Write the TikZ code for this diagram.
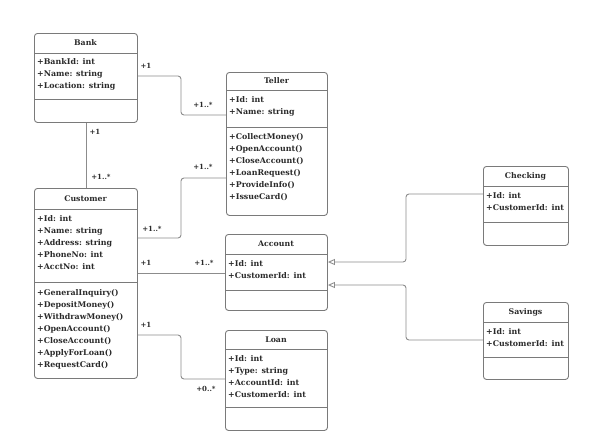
\documentclass[tikz,border=0pt]{standalone}
\usepackage{fontspec}
\setmainfont{DejaVu Serif}
\usetikzlibrary{arrows.meta,calc}
\definecolor{boxc}{HTML}{7A7A7A}
\definecolor{linec}{HTML}{8C8C8C}
\definecolor{txt}{HTML}{2A2A2A}
\tikzset{
  classbox/.style={draw=boxc, line width=0.9pt, rounded corners=3pt, anchor=north west, inner sep=0pt},
  sep/.style={draw=boxc, line width=0.9pt},
  title/.style={font=\fontsize{7.8}{10}\selectfont\bfseries, text=txt, inner sep=0pt},
  attrs/.style={font=\fontsize{7.9}{12}\selectfont\bfseries, text=txt, align=left, anchor=north west, inner sep=0pt},
  conn/.style={draw=linec, line width=0.9pt, rounded corners=3pt},
  mult/.style={font=\fontsize{7}{8}\selectfont\bfseries, text=txt, inner sep=0pt},
  gen/.style={conn, {Triangle[open, length=7pt, width=6pt]}-},
}
\begin{document}
\begin{tikzpicture}[x=1pt,y=-1pt]
\useasboundingbox (0,0) rectangle (605,439);
% Bank
\node[classbox, minimum width=103pt, minimum height=89pt] (bank) at (34,33) {};
\draw[sep] (34,53) -- (137,53) (34,99) -- (137,99);
\node[title] (bankt) at (85.5,43) {Bank};
\node[attrs] (banka) at (37,58) {+BankId: int\\+Name: string\\+Location: string};
% Teller
\node[classbox, minimum width=101pt, minimum height=143pt] (teller) at (226,72) {};
\draw[sep] (226,90) -- (327,90) (226,127) -- (327,127);
\node[title] (tellert) at (276.5,81) {Teller};
\node[attrs] (tellera) at (229,96) {+Id: int\\+Name: string};
\node[attrs] (tellerm) at (229,133) {+CollectMoney()\\+OpenAccount()\\+CloseAccount()\\+LoanRequest()\\+ProvideInfo()\\+IssueCard()};
% Customer
\node[classbox, minimum width=103pt, minimum height=190pt] (cust) at (34,188) {};
\draw[sep] (34,209) -- (137,209) (34,282) -- (137,282);
\node[title] (custt) at (85.5,198.5) {Customer};
\node[attrs] (custa) at (37,215) {+Id: int\\+Name: string\\+Address: string\\+PhoneNo: int\\+AcctNo: int};
\node[attrs] (custm) at (37,289) {+GeneralInquiry()\\+DepositMoney()\\+WithdrawMoney()\\+OpenAccount()\\+CloseAccount()\\+ApplyForLoan()\\+RequestCard()};
% Account
\node[classbox, minimum width=102pt, minimum height=76pt] (acct) at (225,234) {};
\draw[sep] (225,254) -- (327,254) (225,290) -- (327,290);
\node[title] (acctt) at (276,244) {Account};
\node[attrs] (accta) at (228,260) {+Id: int\\+CustomerId: int};
% Loan
\node[classbox, minimum width=102pt, minimum height=100pt] (loan) at (225,330) {};
\draw[sep] (225,349) -- (327,349) (225,407) -- (327,407);
\node[title] (loant) at (276,339.5) {Loan};
\node[attrs] (loana) at (228,355) {+Id: int\\+Type: string\\+AccountId: int\\+CustomerId: int};
% Checking
\node[classbox, minimum width=85pt, minimum height=79pt] (chk) at (483,166) {};
\draw[sep] (483,186) -- (568,186) (483,222) -- (568,222);
\node[title] (chkt) at (525.5,176) {Checking};
\node[attrs] (chka) at (486,192) {+Id: int\\+CustomerId: int};
% Savings
\node[classbox, minimum width=85pt, minimum height=77pt] (sav) at (483,302) {};
\draw[sep] (483,322) -- (568,322) (483,357) -- (568,357);
\node[title] (savt) at (525.5,312) {Savings};
\node[attrs] (sava) at (486,328) {+Id: int\\+CustomerId: int};
% connectors
\draw[conn] (bank.east |- 0,76) -- (181,76) -- (181,115) -- (teller.west |- 0,115);
\draw[conn] (bank.south) -- (cust.north);
\draw[conn] (cust.east |- 0,238) -- (181,238) -- (181,178) -- (teller.west |- 0,178);
\draw[conn] (cust.east |- 0,273) -- (acct.west |- 0,273);
\draw[conn] (cust.east |- 0,335) -- (181,335) -- (181,379) -- (loan.west |- 0,379);
\draw[gen] (acct.east |- 0,262) -- (406,262) -- (406,194) -- (chk.west |- 0,194);
\draw[gen] (acct.east |- 0,285) -- (406,285) -- (406,340) -- (sav.west |- 0,340);
% multiplicities
\node[mult] (m1) at (146,66) {+1};
\node[mult] (m2) at (203,105) {+1..*};
\node[mult] (m3) at (95,132) {+1};
\node[mult] (m4) at (101,177) {+1..*};
\node[mult] (m5) at (152,229) {+1..*};
\node[mult] (m6) at (203,167) {+1..*};
\node[mult] (m7) at (146,263) {+1};
\node[mult] (m8) at (204,263) {+1..*};
\node[mult] (m9) at (146,325) {+1};
\node[mult] (m10) at (206,389) {+0..*};
\end{tikzpicture}
\end{document}
